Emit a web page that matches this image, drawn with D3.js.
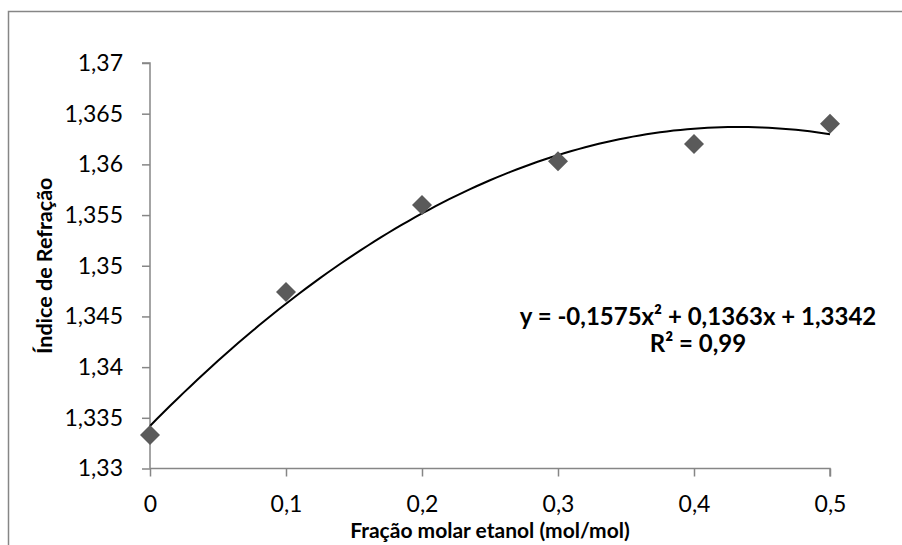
<!DOCTYPE html>
<html lang="pt">
<head>
<meta charset="UTF-8">
<title>Índice de Refração</title>
<script src="https://d3js.org/d3.v7.min.js"></script>
<style>
  body { margin: 0; background: #fff; }
  svg { display: block; font-family: Lato, "Open Sans", sans-serif; }
</style>
</head>
<body>
<div id="chart"></div>
<script>
// dados
const fracao = [0, 0.1, 0.2, 0.3, 0.4, 0.5];
const indice = [1.3333, 1.3474, 1.3560, 1.3603, 1.3620, 1.3640];
// coeficientes da linha de tendência (c, b, a) -> a*x^2 + b*x + c
const coefTendencia = [1.3342, 0.1363, -0.1575];
const xTicks = [0, 0.1, 0.2, 0.3, 0.4, 0.5];
const yTicks = [1.33, 1.335, 1.34, 1.345, 1.35, 1.355, 1.36, 1.365, 1.37];
const eqLinhas = ["y = -0,1575x² + 0,1363x + 1,3342", "R² = 0,99"];

const W = 902, H = 545;
const margin = { top: 63, right: 72, bottom: 76.5, left: 150 };
const fmt = v => String(+v.toFixed(3)).replace('.', ',');

const svg = d3.select('#chart').append('svg')
  .attr('width', W).attr('height', H);

// moldura do gráfico
svg.append('rect')
  .attr('x', 8.5).attr('y', 11.5)
  .attr('width', W + 20).attr('height', H + 20)
  .attr('fill', 'none').attr('stroke', '#868686').attr('stroke-width', 1.5);

const x = d3.scaleLinear().domain([0, 0.5]).range([margin.left, W - margin.right]);
const y = d3.scaleLinear().domain([1.33, 1.37]).range([H - margin.bottom, margin.top]);

// eixo y
const gy = svg.append('g')
  .attr('transform', `translate(${margin.left},0)`)
  .call(d3.axisLeft(y).tickValues(yTicks).tickFormat(fmt).tickSize(8).tickPadding(19));
// eixo x
const gx = svg.append('g')
  .attr('transform', `translate(0,${H - margin.bottom})`)
  .call(d3.axisBottom(x).tickValues(xTicks).tickFormat(fmt).tickSize(8).tickPadding(19));

[gx, gy].forEach(g => {
  g.select('.domain').attr('stroke', '#868686').attr('stroke-width', 1.5);
  g.selectAll('.tick line').attr('stroke', '#868686').attr('stroke-width', 1.5);
  g.selectAll('.tick text').attr('fill', '#000').style('font-size', '23px').style('font-family', 'Lato, sans-serif');
});
gy.select('.domain').attr('d', `M-8,${y(1.37)}H0V${y(1.33)}`);
gx.select('.domain').attr('d', `M${x(0)},0H${x(0.5)}V8`);

// linha de tendência polinomial
const curva = d3.range(0, 101).map(i => {
  const t = i / 100 * 0.5;
  return [t, coefTendencia[0] + coefTendencia[1] * t + coefTendencia[2] * t * t];
});
svg.append('path')
  .datum(curva)
  .attr('fill', 'none').attr('stroke', '#000').attr('stroke-width', 2)
  .attr('d', d3.line().x(d => x(d[0])).y(d => y(d[1])));

// pontos (losangos)
svg.selectAll('.ponto')
  .data(fracao.map((f, i) => [f, indice[i]]))
  .enter().append('path')
  .attr('class', 'ponto')
  .attr('transform', d => `translate(${x(d[0])},${y(d[1])})`)
  .attr('d', 'M0,-10L10,0L0,10L-10,0Z')
  .attr('fill', '#5a5a5a');

// equação (duas linhas)
svg.selectAll('.eq')
  .data(eqLinhas)
  .enter().append('text')
  .attr('class', 'eq')
  .attr('x', 698).attr('y', (d, i) => 325 + i * 27)
  .attr('text-anchor', 'middle')
  .style('font-size', '24px').style('font-weight', 'bold')
  .text(d => d);

// títulos dos eixos
svg.append('text')
  .attr('x', (x(0) + x(0.5)) / 2).attr('y', 538)
  .attr('text-anchor', 'middle')
  .style('font-size', '21px').style('font-weight', 'bold')
  .text('Fração molar etanol (mol/mol)');

svg.append('text')
  .attr('transform', `translate(52,${(y(1.33) + y(1.37)) / 2}) rotate(-90)`)
  .attr('text-anchor', 'middle')
  .style('font-size', '21.5px').style('font-weight', 'bold')
  .text('Índice de Refração');
</script>
</body>
</html>
